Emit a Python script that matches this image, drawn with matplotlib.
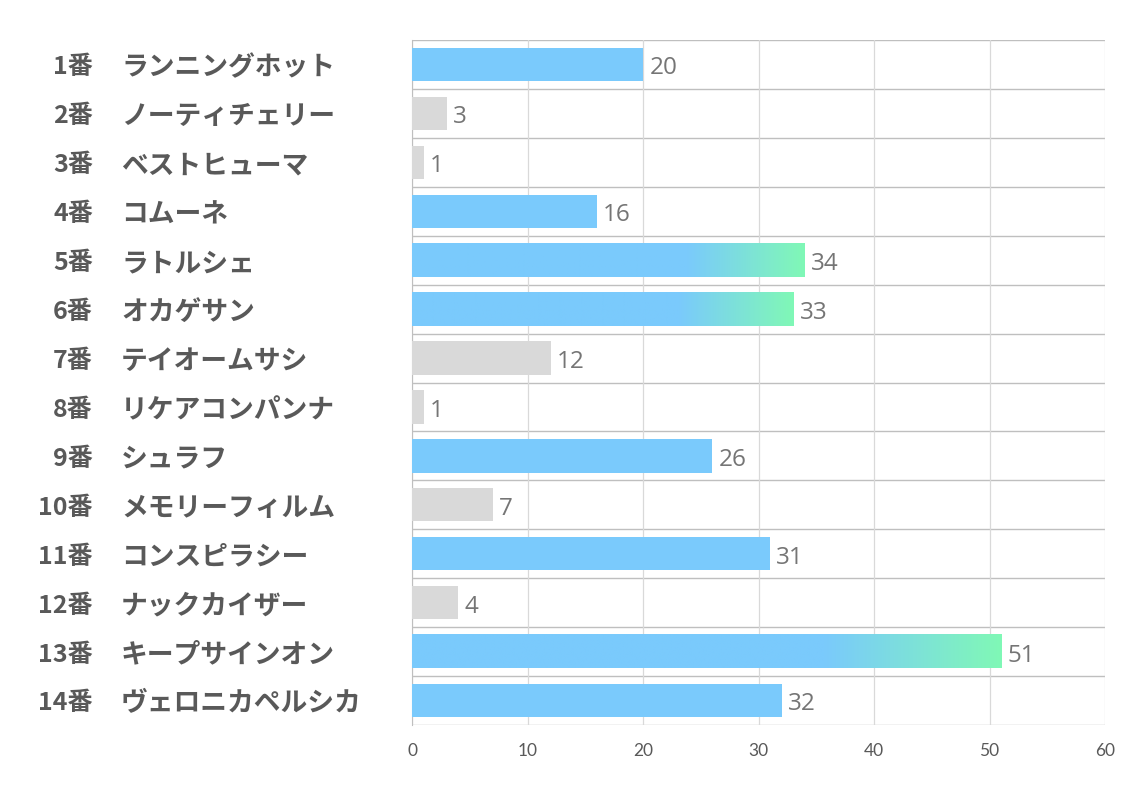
import matplotlib
matplotlib.use("Agg")
import matplotlib.pyplot as plt
import matplotlib.transforms as mtransforms
from matplotlib.colors import to_rgb
import numpy as np

numbers = ["1番", "2番", "3番", "4番", "5番", "6番", "7番", "8番", "9番", "10番", "11番", "12番", "13番", "14番"]
names = ["ランニングホット", "ノーティチェリー", "ベストヒューマ", "コムーネ", "ラトルシェ", "オカゲサン",
         "テイオームサシ", "リケアコンパンナ", "シュラフ", "メモリーフィルム", "コンスピラシー",
         "ナックカイザー", "キープサインオン", "ヴェロニカペルシカ"]
values = [20, 3, 1, 16, 34, 33, 12, 1, 26, 7, 31, 4, 51, 32]
# bar style: 'b' = blue, 'g' = gray, 'gr' = blue->green gradient
styles = ["b", "g", "g", "b", "gr", "gr", "g", "g", "b", "g", "b", "g", "gr", "b"]
xticks = [0, 10, 20, 30, 40, 50, 60]

BLUE = "#7acafc"
GREEN = "#80f8b6"
GRAY = "#d9d9d9"
TXT = "#595959"
VAL = "#757575"

plt.rcParams['font.family'] = ['Noto Sans CJK JP', 'DejaVu Sans']

fig = plt.figure(figsize=(11.34, 7.93), dpi=100)
ax = fig.add_axes([412/1134, 1-725/793, (1105-412)/1134, (725-40)/793])

n = len(values)
ypos = np.arange(n)
h = 0.68
ax.set_xlim(0, 60)
ax.set_ylim(n - 0.5, -0.5)

c0 = np.array(to_rgb(BLUE))
c1 = np.array(to_rgb(GREEN))
for y, v, s in zip(ypos, values, styles):
    if s == "g":
        ax.barh(y, v, height=h, color=GRAY, zorder=3)
    elif s == "b":
        ax.barh(y, v, height=h, color=BLUE, zorder=3)
    else:
        t = np.linspace(0, 1, 400)
        f = np.clip((t - 0.70) / 0.30, 0, 1)
        img = (c0[None, :] * (1 - f[:, None]) + c1[None, :] * f[:, None])[None, :, :]
        ax.imshow(img, extent=(0, v, y + h/2, y - h/2), aspect="auto", zorder=3,
                  interpolation="bilinear")
    ax.text(v + 0.55, y + 0.08, str(v), va="center", ha="left", fontsize=17.5, color=VAL,
            family=["Open Sans", "DejaVu Sans"], zorder=4)

ax.set_xlim(0, 60)
ax.set_ylim(n - 0.5, -0.5)

# grid
for b in np.arange(-0.5, n + 0.5, 1):
    ax.axhline(b, color="#bfbfbf", lw=1, zorder=1)
for x in xticks:
    ax.axvline(x, color="#d9d9d9", lw=0.9, zorder=1)

for sp in ["top", "right", "bottom"]:
    ax.spines[sp].set_visible(False)
ax.spines["left"].set_color("#bfbfbf")

ax.set_yticks([])
ax.set_xticks(xticks)
ax.set_xticklabels([str(x) for x in xticks], family=["Lato", "DejaVu Sans"], fontsize=12.5, color=TXT)
ax.tick_params(axis="x", length=0, pad=13)

tr = mtransforms.blended_transform_factory(fig.transFigure, ax.transData)
for y, num, nm in zip(ypos, numbers, names):
    ax.text(93/1134, y + 0.06, num, transform=tr, ha="right", va="center", fontsize=18,
            fontweight="bold", color=TXT, clip_on=False)
    ax.text(121/1134, y + 0.06, nm, transform=tr, ha="left", va="center", fontsize=19.3,
            fontweight="bold", color=TXT, clip_on=False)

fig.savefig("out.png", dpi=100)
